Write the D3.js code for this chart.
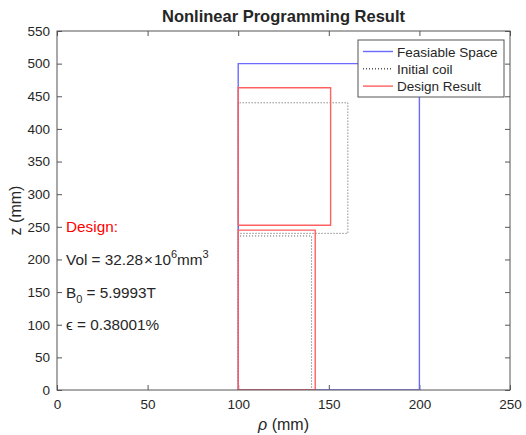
<!doctype html>
<html lang="en">
<head>
<meta charset="utf-8">
<style>
body{margin:0;background:#fff;}
text{font-family:"Liberation Sans",Arial,sans-serif;fill:#262626;}
</style>
</head>
<body>
<div id="grafico"></div>
<script src="https://d3js.org/d3.v7.min.js"></script>
<script>

// feasible region (blue)
var feasibleRho = [100, 100, 200, 200, 100];
var feasibleZ   = [0, 500, 500, 0, 0];

// initial coil (dotted), two blocks
var initialUpperRho = [100, 100, 160.5, 160.5, 100];
var initialUpperZ   = [240, 440, 440, 240, 240];
var initialLowerRho = [100, 100, 140.5, 140.5, 100];
var initialLowerZ   = [0, 236, 236, 0, 0];

// design result (red), two blocks
var designUpperRho = [100, 100, 151, 151, 100];
var designUpperZ   = [252.5, 463, 463, 252.5, 252.5];
var designLowerRho = [100, 100, 142.5, 142.5, 100];
var designLowerZ   = [0, 245, 245, 0, 0];

var xTicks = [0, 50, 100, 150, 200, 250];
var yTicks = [0, 50, 100, 150, 200, 250, 300, 350, 400, 450, 500, 550];

var legendNames = ["Feasiable Space", "Initial coil", "Design Result"];

var W = 526, H = 435;
var m = {left:57, right:16, top:31, bottom:45};

var svg = d3.select("#grafico").append("svg").attr("width", W).attr("height", H);

var x = d3.scaleLinear().domain([0, 250]).range([m.left, W - m.right]);
var y = d3.scaleLinear().domain([0, 550]).range([H - m.bottom, m.top]);

svg.append("defs").append("clipPath").attr("id", "clip")
	.append("rect").attr("x", m.left).attr("y", m.top)
	.attr("width", W - m.left - m.right).attr("height", H - m.top - m.bottom);

var axisColor = "#555";
var tickLen = 5;

function styleAxis(g){
	g.select(".domain").remove();
	g.selectAll(".tick line").attr("stroke", axisColor);
	g.selectAll(".tick text").style("font-size", "13.5px").attr("fill", "#262626")
		.style("font-family", "'Liberation Sans',Arial,sans-serif");
}

svg.append("g").attr("transform", "translate(0," + (H - m.bottom) + ")")
	.call(d3.axisBottom(x).tickValues(xTicks).tickSizeInner(-tickLen).tickSizeOuter(0).tickPadding(9))
	.call(styleAxis);
svg.append("g").attr("transform", "translate(0," + m.top + ")")
	.call(d3.axisTop(x).tickValues(xTicks).tickSizeInner(-tickLen).tickSizeOuter(0).tickFormat(""))
	.call(styleAxis);
svg.append("g").attr("transform", "translate(" + m.left + ",0)")
	.call(d3.axisLeft(y).tickValues(yTicks).tickSizeInner(-tickLen).tickSizeOuter(0).tickPadding(7))
	.call(styleAxis);
svg.append("g").attr("transform", "translate(" + (W - m.right) + ",0)")
	.call(d3.axisRight(y).tickValues(yTicks).tickSizeInner(-tickLen).tickSizeOuter(0).tickFormat(""))
	.call(styleAxis);

var line = d3.line().x(function(d){ return x(d[0]); }).y(function(d){ return y(d[1]); });
function pts(r, z){ return r.map(function(v, i){ return [v, z[i]]; }); }

var plot = svg.append("g").attr("clip-path", "url(#clip)");

var blue = "#6a6aff", red = "#ff6060", dotted = "#555";

plot.append("path").attr("d", line(pts(feasibleRho, feasibleZ)))
	.attr("fill", "none").attr("stroke", blue).attr("stroke-width", 1.4);

[[initialUpperRho, initialUpperZ], [initialLowerRho, initialLowerZ]].forEach(function(p){
	plot.append("path").attr("d", line(pts(p[0], p[1])))
		.attr("fill", "none").attr("stroke", dotted).attr("stroke-width", 1)
		.attr("stroke-dasharray", "1,2");
});

[[designUpperRho, designUpperZ], [designLowerRho, designLowerZ]].forEach(function(p){
	plot.append("path").attr("d", line(pts(p[0], p[1])))
		.attr("fill", "none").attr("stroke", red).attr("stroke-width", 1.4);
});

// box
svg.append("rect").attr("x", m.left).attr("y", m.top)
	.attr("width", W - m.left - m.right).attr("height", H - m.top - m.bottom)
	.attr("fill", "none").attr("stroke", axisColor).attr("stroke-width", 1);

// annotations
var ann = svg.append("g").style("font-size", "15.3px");
ann.append("text").attr("x", x(5)).attr("y", y(250) + 5.5).style("fill", "#ff0000").text("Design:");

var t1 = ann.append("text").attr("x", x(5)).attr("y", y(200) + 5.5);
t1.append("tspan").text("Vol = 32.28");
t1.append("tspan").attr("dx", 1).text("\u00d7");
t1.append("tspan").attr("dx", 1).text("10");
t1.append("tspan").attr("dy", -7).style("font-size", "11px").text("6");
t1.append("tspan").attr("dy", 7).text("mm");
t1.append("tspan").attr("dy", -7).style("font-size", "11px").text("3");

var t2 = ann.append("text").attr("x", x(5)).attr("y", y(150) + 5.5);
t2.append("tspan").text("B");
t2.append("tspan").attr("dy", 5).style("font-size", "11px").text("0");
t2.append("tspan").attr("dy", -5).text(" = 5.9993T");

ann.append("text").attr("x", x(5)).attr("y", y(100) + 5.5).text("\u03f5 = 0.38001%");

// title and labels
svg.append("text").attr("x", x(125)).attr("y", 22).attr("text-anchor", "middle")
	.style("font-size", "16.5px").style("font-weight", "bold").text("Nonlinear Programming Result");

var xl = svg.append("text").attr("x", x(125)).attr("y", 430).attr("text-anchor", "middle").style("font-size", "16px");
xl.append("tspan").style("font-style", "italic").text("\u03c1");
xl.append("tspan").text(" (mm)");

svg.append("text").attr("transform", "translate(21," + y(275) + ") rotate(-90)")
	.attr("text-anchor", "middle").style("font-size", "16px").text("z (mm)");

// legend
var lg = svg.append("g").attr("transform", "translate(358,40)");
lg.append("rect").attr("width", 146).attr("height", 57).attr("fill", "#fff")
	.attr("stroke", axisColor).attr("stroke-width", 1);
var styles = [
	{stroke: blue, dash: null},
	{stroke: dotted, dash: "1,2"},
	{stroke: red, dash: null}
];
legendNames.forEach(function(name, i){
	var yy = 11.5 + i * 17.3;
	lg.append("line").attr("x1", 5).attr("x2", 35).attr("y1", yy).attr("y2", yy)
		.attr("stroke", styles[i].stroke).attr("stroke-width", 1.4)
		.attr("stroke-dasharray", styles[i].dash);
	lg.append("text").attr("x", 39).attr("y", yy + 5).style("font-size", "13.5px").text(name);
});

</script>
</body>
</html>
